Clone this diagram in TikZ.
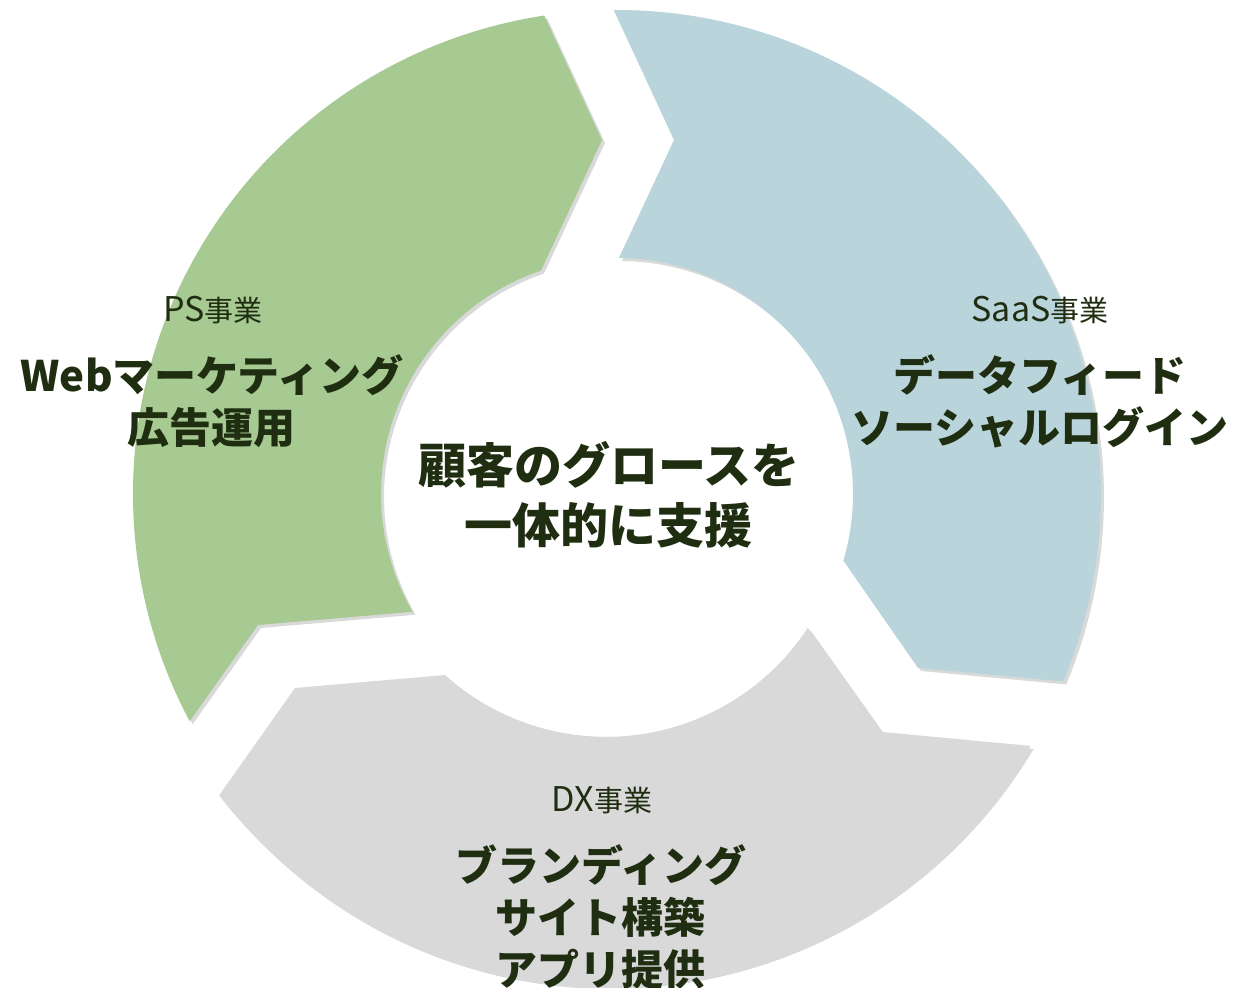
\documentclass[tikz,border=0pt]{standalone}
\usepackage{fontspec}
\setmainfont{Noto Sans CJK JP}
\usetikzlibrary{shadows}
\definecolor{psgreen}{HTML}{A7C992}
\definecolor{saasblue}{HTML}{BAD4DC}
\definecolor{dxgray}{HTML}{D9D9D9}
\definecolor{ink}{HTML}{1F2D10}

\begin{document}
\begin{tikzpicture}[x=0.5pt,y=0.5pt,
  segment/.style={drop shadow={shadow xshift=1.5pt,shadow yshift=-1.5pt,opacity=0.3}},
  unit/.style={text=ink,font=\fontsize{17}{20}\selectfont},
  service/.style={text=ink,font=\fontsize{21}{26}\selectfont\bfseries,align=center},
  core/.style={text=ink,font=\fontsize{24}{30}\selectfont\bfseries,align=center}]
\useasboundingbox (-617,-494) rectangle (620,494);

\fill[psgreen,segment] (208:484) arc[start angle=208,end angle=98.65,radius=484] -- (-15,354) -- (108.8:236) arc[start angle=108.8,end angle=209.94,radius=236] -- (-359,-131) -- cycle;
\fill[saasblue,segment] (90.39:484) arc[start angle=90.39,end angle=-22.79,radius=484] -- (301,-174) -- (-16.41:236) arc[start angle=-16.41,end angle=89.54,radius=236] -- (57,354) -- cycle;
\fill[dxgray,segment] (413.7,-251.9) arc[start angle=-30.79,end angle=-142.24,radius=492] -- (-322,-194) -- (-172,-181) arc[start angle=-131.97,end angle=-33.2,radius=241] -- (265,-238) -- cycle;

\node[unit] (ps) at (-404,184) {PS{\fontsize{14.5}{20}\selectfont 事業}};
\node[service] (psjob) at (-405,93) {Webマーケティング\\広告運用};
\node[unit] (saas) at (423,184) {SaaS{\fontsize{14.5}{20}\selectfont 事業}};
\node[service] (saasjob) at (423,93) {データフィード\\ソーシャルログイン};
\node[unit] (dx) at (-15,-306) {DX{\fontsize{14.5}{20}\selectfont 事業}};
\node[service] (dxjob) at (-16,-423) {ブランディング\\サイト構築\\アプリ提供};
\node[core] (growth) at (-8,-1) {顧客のグロースを\\一体的に支援};

\end{tikzpicture}
\end{document}
